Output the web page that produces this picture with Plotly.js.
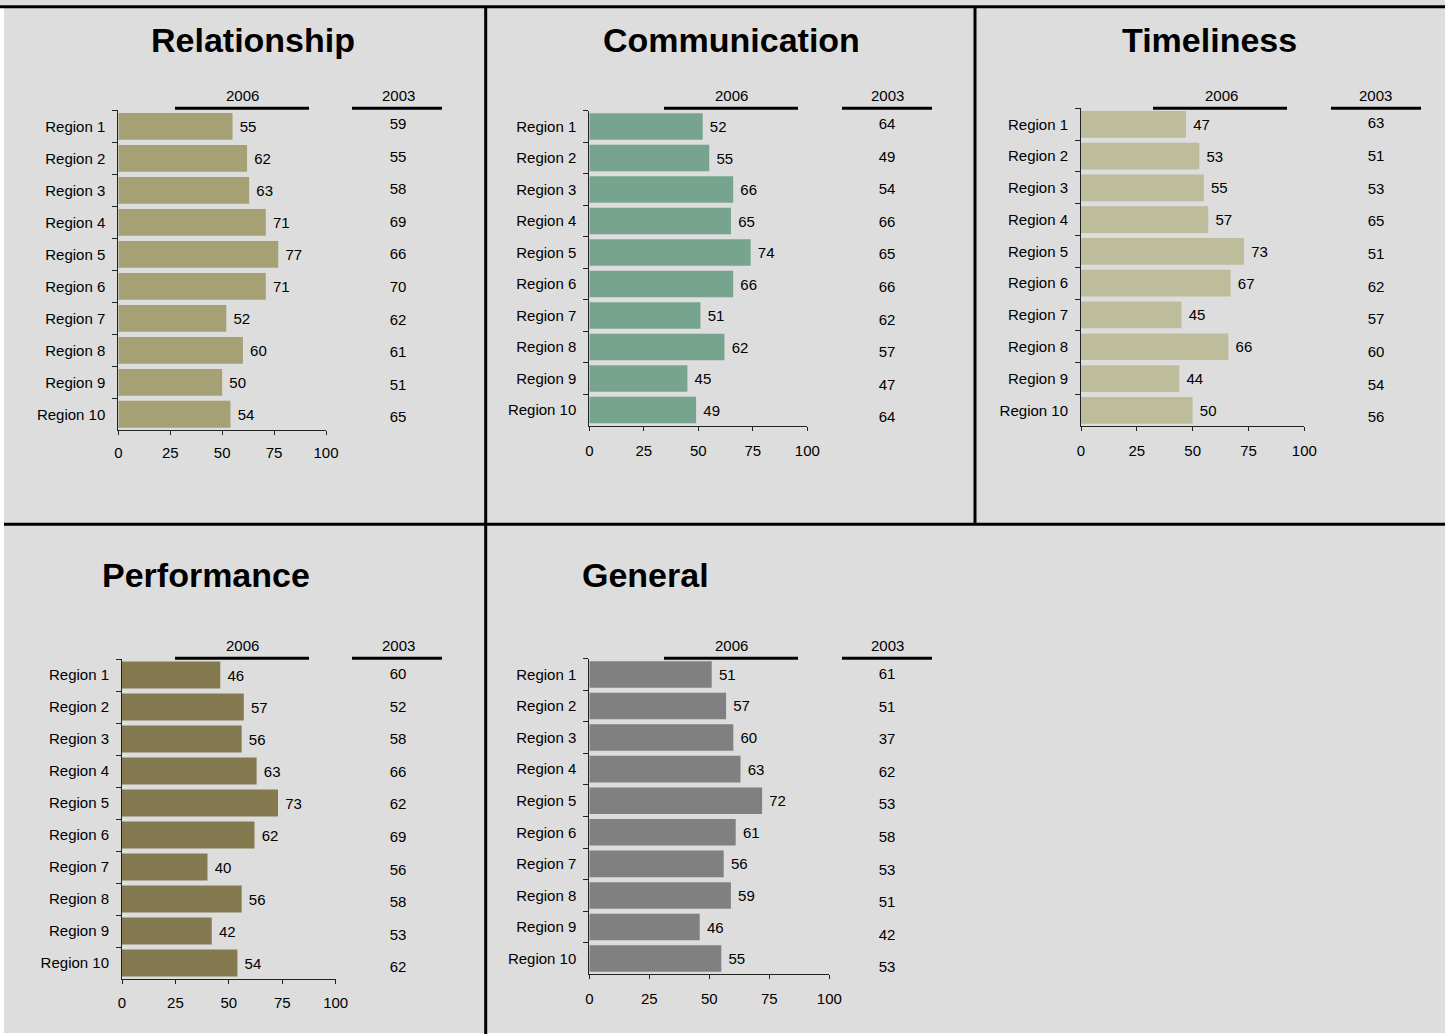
<!DOCTYPE html>
<html>
<head>
<meta charset="utf-8">
<script src="https://cdn.plot.ly/plotly-3.0.1.min.js"></script>
<style>html,body{margin:0;padding:0;background:#fff;}#chart{width:1445px;height:1034px;}</style>
</head>
<body>
<div id="chart"></div>
<script>
// ---------- DATA ----------
const regions = ['Region 1','Region 2','Region 3','Region 4','Region 5','Region 6','Region 7','Region 8','Region 9','Region 10'];
const titles = ['Relationship','Communication','Timeliness','Performance','General'];
const yearNew = '2006';
const yearOld = '2003';
const xTicks = [0, 25, 50, 75, 100];

const relationship2006  = [55, 62, 63, 71, 77, 71, 52, 60, 50, 54];
const relationship2003  = [59, 55, 58, 69, 66, 70, 62, 61, 51, 65];
const communication2006 = [52, 55, 66, 65, 74, 66, 51, 62, 45, 49];
const communication2003 = [64, 49, 54, 66, 65, 66, 62, 57, 47, 64];
const timeliness2006    = [47, 53, 55, 57, 73, 67, 45, 66, 44, 50];
const timeliness2003    = [63, 51, 53, 65, 51, 62, 57, 60, 54, 56];
const performance2006   = [46, 57, 56, 63, 73, 62, 40, 56, 42, 54];
const performance2003   = [60, 52, 58, 66, 62, 69, 56, 58, 53, 62];
const general2006       = [51, 57, 60, 63, 72, 61, 56, 59, 46, 55];
const general2003       = [61, 51, 37, 62, 53, 58, 53, 51, 42, 53];

const values2006 = [relationship2006, communication2006, timeliness2006, performance2006, general2006];
const values2003 = [relationship2003, communication2003, timeliness2003, performance2003, general2003];

// ---------- LAYOUT GEOMETRY (pixels) ----------
const W = 1445, H = 1034;
const colors = ['#A5A175', '#76A48E', '#BDBD9C', '#857A4F', '#808080'];
const panels = [
  {bx:[118.3,326],  by:[110.4,430.3], xs:5, cx:398,  cy:[109,435],   tx:253,  ty:41,  hy:95,  ly:108.3, h6:242,  l6:[175,309],   h3:398,  l3:[352,442]},
  {bx:[589.3,807.3],by:[110.75,425.8],xs:7, cx:887,  cy:[109,435],   tx:731,  ty:41,  hy:95,  ly:108.3, h6:731,  l6:[664,798],   h3:887,  l3:[842,932]},
  {bx:[1081,1304.3],by:[108.4,426.2], xs:7, cx:1376, cy:[108,435],   tx:1209, ty:41,  hy:95,  ly:108.3, h6:1221, l6:[1153,1287], h3:1375, l3:[1331,1421]},
  {bx:[122,335.7],  by:[659,979],     xs:6, cx:398,  cy:[659,985],   tx:206,  ty:576, hy:645, ly:658.3, h6:242,  l6:[175,309],   h3:398,  l3:[352,442]},
  {bx:[589.3,829.3],by:[658.6,974.4], xs:7, cx:887,  cy:[659,985],   tx:645,  ty:576, hy:645, ly:658.3, h6:731,  l6:[664,798],   h3:887,  l3:[842,932]}
];
const px = x => x / W;
const py = y => 1 - y / H;

const FONT = 'Arial, "Liberation Sans", "Helvetica", sans-serif';
const data = [];
const layout = {
  width: W, height: H,
  margin: {l:0, r:0, t:0, b:0, pad:0},
  paper_bgcolor: '#dddddd',
  plot_bgcolor: 'rgba(0,0,0,0)',
  showlegend: false,
  bargap: 0.16,
  font: {family: FONT, size: 15, color: '#000'},
  annotations: [],
  shapes: []
};

panels.forEach((p, i) => {
  const k = i + 1, k2 = i + 6;
  const xa = 'xaxis' + (k === 1 ? '' : k), ya = 'yaxis' + (k === 1 ? '' : k);
  const xb = 'xaxis' + k2, yb = 'yaxis' + k2;
  layout[xa] = {
    domain: [px(p.bx[0]), px(p.bx[1])], range: [0, 100], anchor: 'y' + (k === 1 ? '' : k),
    tickmode: 'array', tickvals: xTicks, ticktext: xTicks.map(String),
    ticks: 'outside', ticklen: 4, tickwidth: 1, tickcolor: '#222',
    ticklabelstandoff: p.xs,
    showline: true, linecolor: '#222', linewidth: 1,
    showgrid: false, zeroline: false, fixedrange: true,
    tickfont: {size: 15, color: '#000', family: FONT}
  };
  layout[ya] = {
    domain: [py(p.by[1]), py(p.by[0])], type: 'category',
    categoryorder: 'array', categoryarray: regions, range: [regions.length - 0.5, -0.5],
    anchor: 'x' + (k === 1 ? '' : k),
    ticks: 'outside', tickson: 'boundaries', ticklen: 5, tickwidth: 1, tickcolor: '#222',
    ticklabelstandoff: 9,
    showline: true, linecolor: '#222', linewidth: 1,
    showgrid: false, zeroline: false, fixedrange: true,
    tickfont: {size: 15, color: '#000', family: FONT}
  };
  layout[xb] = {
    domain: [px(p.cx - 45), px(p.cx + 45)], type: 'category', range: [-0.5, 0.5],
    anchor: 'y' + k2, visible: false, fixedrange: true
  };
  layout[yb] = {
    domain: [py(p.cy[1]), py(p.cy[0])], type: 'category',
    categoryorder: 'array', categoryarray: regions, range: [regions.length - 0.5, -0.5],
    anchor: 'x' + k2, visible: false, fixedrange: true
  };

  data.push({
    type: 'bar', orientation: 'h',
    x: values2006[i], y: regions,
    xaxis: 'x' + (k === 1 ? '' : k), yaxis: 'y' + (k === 1 ? '' : k),
    marker: {color: colors[i], line: {width: 0}},
    text: values2006[i].map(String), texttemplate: '\u00a0%{x}',
    textposition: 'outside', cliponaxis: false,
    textfont: {size: 15, color: '#000', family: FONT},
    hoverinfo: 'skip'
  });
  data.push({
    type: 'scatter', mode: 'text',
    x: regions.map(() => yearOld), y: regions,
    xaxis: 'x' + k2, yaxis: 'y' + k2,
    text: values2003[i].map(String), textposition: 'middle center',
    textfont: {size: 15, color: '#000', family: FONT},
    cliponaxis: false, hoverinfo: 'skip'
  });

  layout.annotations.push({
    xref: 'paper', yref: 'paper', x: px(p.tx), y: py(p.ty - 1),
    xanchor: 'center', yanchor: 'middle', showarrow: false,
    text: '<b>' + titles[i] + '</b>', font: {size: 34, color: '#000', family: FONT}
  });
  layout.annotations.push({
    xref: 'paper', yref: 'paper', x: px(p.h6), y: py(p.hy),
    xanchor: 'center', yanchor: 'middle', showarrow: false,
    text: yearNew, font: {size: 15, color: '#000', family: FONT}
  });
  layout.annotations.push({
    xref: 'paper', yref: 'paper', x: px(p.h3), y: py(p.hy),
    xanchor: 'center', yanchor: 'middle', showarrow: false,
    text: yearOld, font: {size: 15, color: '#000', family: FONT}
  });
  layout.shapes.push({type: 'line', xref: 'paper', yref: 'paper',
    x0: px(p.l6[0]), x1: px(p.l6[1]), y0: py(p.ly), y1: py(p.ly), line: {color: '#000', width: 3}});
  layout.shapes.push({type: 'line', xref: 'paper', yref: 'paper',
    x0: px(p.l3[0]), x1: px(p.l3[1]), y0: py(p.ly), y1: py(p.ly), line: {color: '#000', width: 3}});
});

// frame lines and edges
const frame = [
  [0, 6.7, W, 6.7],
  [4, 524.3, W, 524.3],
  [485.7, 6.7, 485.7, H],
  [975, 6.7, 975, 524.3]
];
frame.forEach(f => layout.shapes.push({type: 'line', xref: 'paper', yref: 'paper',
  x0: px(f[0]), y0: py(f[1]), x1: px(f[2]), y1: py(f[3]), line: {color: '#000', width: 3}, layer: 'above'}));
layout.shapes.push({type: 'rect', xref: 'paper', yref: 'paper', x0: 0, x1: px(4), y0: 0, y1: py(8),
  fillcolor: '#ffffff', line: {width: 0}, layer: 'below'});
layout.shapes.push({type: 'rect', xref: 'paper', yref: 'paper', x0: 0, x1: 1, y0: 0, y1: py(1033),
  fillcolor: '#ffffff', line: {width: 0}, layer: 'below'});

Plotly.newPlot('chart', data, layout, {staticPlot: true, displayModeBar: false});
</script>
</body>
</html>
